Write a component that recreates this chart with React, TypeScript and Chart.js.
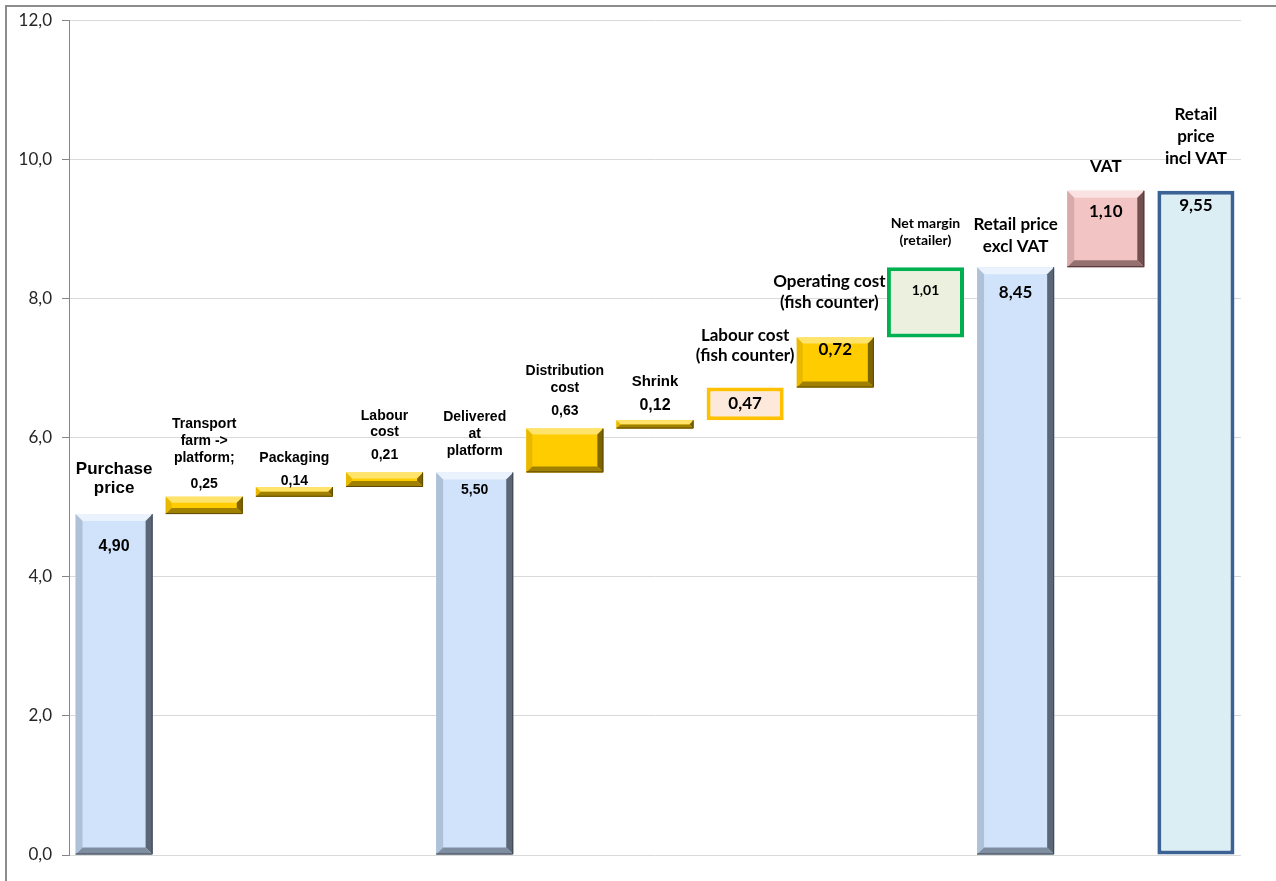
import React, { useEffect, useRef } from "react";
import { Chart, registerables } from "chart.js";

Chart.register(...registerables);

// ---------- data ----------
const categories: string[][] = [
  ["Purchase", "price"],
  ["Transport", "farm ->", "platform;"],
  ["Packaging"],
  ["Labour", "cost"],
  ["Delivered", "at", "platform"],
  ["Distribution", "cost"],
  ["Shrink"],
  ["Labour cost", "(fish counter)"],
  ["Operating cost", "(fish counter)"],
  ["Net margin", "(retailer)"],
  ["Retail price", "excl VAT"],
  ["VAT"],
  ["Retail", "price", "incl VAT"],
];
const barValues = [4.9, 0.25, 0.14, 0.21, 5.5, 0.63, 0.12, 0.47, 0.72, 1.01, 8.45, 1.1, 9.55];
const isTotal = [true, false, false, false, true, false, false, false, false, false, true, false, true];
const valueLabels = ["4,90", "0,25", "0,14", "0,21", "5,50", "0,63", "0,12", "0,47", "0,72", "1,01", "8,45", "1,10", "9,55"];
const yTickValues = [0, 2, 4, 6, 8, 10, 12];
const yTickLabels = ["0,0", "2,0", "4,0", "6,0", "8,0", "10,0", "12,0"];

// ---------- styles ----------
type Kind = "blue" | "gold" | "pink" | "peach" | "green" | "total";
const kinds: Kind[] = ["blue", "gold", "gold", "gold", "blue", "gold", "gold", "peach", "gold", "green", "blue", "pink", "total"];

const fills: Record<Kind, string> = {
  blue: "#D1E3FA",
  gold: "#FFCC00",
  pink: "#F2C4C4",
  peach: "#FDE9DB",
  green: "#EBF1DE",
  total: "#DAEEF3",
};
const borders: Record<Kind, [string, number]> = {
  blue: ["rgba(0,0,0,0)", 0],
  gold: ["rgba(0,0,0,0)", 0],
  pink: ["rgba(0,0,0,0)", 0],
  peach: ["#FFC000", 4],
  green: ["#00B050", 4],
  total: ["#3A6294", 4],
};
const bevelCols: Partial<Record<Kind, { top: string; left: string; right: string; bottom: string; edge: string; size: number }>> = {
  blue: { top: "#EAF2FD", left: "#AFC1D8", right: "#5B6676", bottom: "#7E8DA0", edge: "#3E4650", size: 7 },
  gold: { top: "#FFE36A", left: "#E9B900", right: "#7E6400", bottom: "#A08000", edge: "#5E4A00", size: 6 },
  pink: { top: "#FAE2E2", left: "#D8AAAA", right: "#735050", bottom: "#957070", edge: "#4E3535", size: 7 },
};

const ARIAL = "'Liberation Sans', Arial, sans-serif";
const CALIBRI = "Lato, 'Open Sans', sans-serif";

// label layout per bar
const nameSize = [17, 14, 14, 14, 14, 14, 15, 17, 17, 14, 17, 17, 17];
const nameFamily = [ARIAL, ARIAL, ARIAL, ARIAL, ARIAL, ARIAL, ARIAL, CALIBRI, CALIBRI, CALIBRI, CALIBRI, CALIBRI, CALIBRI];
const nameLineH = [19, 17, 17, 16, 17, 17, 17, 20, 21, 17, 22, 22, 22];
const nameGap = [26, 39, 29, 40, 21, 40, 38, 32, 35, 27, 21, 24, 32];
const nameDx = [0, 0, 0, 0, 0, 0, 0, 0, -6, 0, 0, 0, 0];
const valueSize = [16, 14, 14, 14, 14, 14, 16, 17, 17, 14, 17, 17, 17];
const valueFamily = [ARIAL, ARIAL, ARIAL, ARIAL, ARIAL, ARIAL, ARIAL, CALIBRI, CALIBRI, CALIBRI, CALIBRI, CALIBRI, CALIBRI];
const valueOffset = [32, -13, -6, -17, 18, -17, -15, 16, 12, 23, 25, 21, 15];

function buildRanges(): [number, number][] {
  const out: [number, number][] = [];
  let running = 0;
  barValues.forEach((v, i) => {
    if (isTotal[i]) {
      out.push([0, v]);
      running = v;
    } else {
      out.push([running, running + v]);
      running = running + v;
    }
  });
  return out;
}

function poly(ctx: CanvasRenderingContext2D, pts: number[][], color: string) {
  ctx.beginPath();
  ctx.moveTo(pts[0][0], pts[0][1]);
  for (let i = 1; i < pts.length; i++) ctx.lineTo(pts[i][0], pts[i][1]);
  ctx.closePath();
  ctx.fillStyle = color;
  ctx.fill();
}

const bevelPlugin = {
  id: "bevel",
  afterDatasetsDraw(chart: any) {
    const ctx: CanvasRenderingContext2D = chart.ctx;
    const meta = chart.getDatasetMeta(0);
    meta.data.forEach((el: any, i: number) => {
      const c = bevelCols[kinds[i]];
      if (!c) return;
      const { x, y, base, width } = el.getProps(["x", "y", "base", "width"], true);
      const l = x - width / 2;
      const r = x + width / 2;
      const t = Math.min(y, base);
      const b = Math.max(y, base);
      const s = Math.min(c.size, (b - t) / 2, (r - l) / 2);
      ctx.save();
      poly(ctx, [[l, t], [r, t], [r - s, t + s], [l + s, t + s]], c.top);
      poly(ctx, [[l, t], [l + s, t + s], [l + s, b - s], [l, b]], c.left);
      poly(ctx, [[r, t], [r, b], [r - s, b - s], [r - s, t + s]], c.right);
      poly(ctx, [[l, b], [l + s, b - s], [r - s, b - s], [r, b]], c.bottom);
      ctx.strokeStyle = c.edge;
      ctx.lineWidth = 1;
      ctx.beginPath();
      ctx.moveTo(r - 0.5, t);
      ctx.lineTo(r - 0.5, b - 0.5);
      ctx.lineTo(l, b - 0.5);
      ctx.stroke();
      ctx.restore();
    });
  },
};

const labelPlugin = {
  id: "labels",
  afterDraw(chart: any) {
    const ctx: CanvasRenderingContext2D = chart.ctx;
    const meta = chart.getDatasetMeta(0);
    ctx.save();
    ctx.fillStyle = "#000000";
    ctx.textAlign = "center";
    ctx.textBaseline = "middle";
    meta.data.forEach((el: any, i: number) => {
      const { x, y, base } = el.getProps(["x", "y", "base"], true);
      const top = Math.min(y, base);
      const lines = categories[i];
      ctx.font = `bold ${nameSize[i]}px ${nameFamily[i]}`;
      const lastY = top - nameGap[i];
      lines.forEach((ln, k) => {
        const ly = lastY - (lines.length - 1 - k) * nameLineH[i];
        ctx.fillText(ln, x + nameDx[i], ly);
      });
      ctx.font = `bold ${valueSize[i]}px ${valueFamily[i]}`;
      ctx.fillText(valueLabels[i], x, top + valueOffset[i]);
    });
    ctx.restore();
  },
};

export default function App() {
  const ref = useRef<HTMLCanvasElement | null>(null);
  useEffect(() => {
    if (!ref.current) return;
    const ranges = buildRanges();
    const chart = new Chart(ref.current, {
      type: "bar",
      data: {
        labels: categories.map((c) => c.join(" ")),
        datasets: [
          {
            data: ranges as any,
            backgroundColor: kinds.map((k) => fills[k]),
            borderColor: kinds.map((k) => borders[k][0]),
            borderWidth: kinds.map((k) => borders[k][1]),
            borderSkipped: false,
            categoryPercentage: 1,
            barPercentage: 0.855,
          },
        ],
      },
      options: {
        responsive: false,
        animation: false,
        devicePixelRatio: 1,
        layout: { padding: { left: 0, top: 20, right: 35, bottom: 26 } },
        plugins: {
          legend: { display: false },
          tooltip: { enabled: false },
          title: { display: false },
        },
        scales: {
          x: {
            display: false,
            grid: { display: false },
          },
          y: {
            min: 0,
            max: 12,
            afterFit: (scale: any) => {
              scale.width = 69;
            },
            afterBuildTicks: (scale: any) => {
              scale.ticks = yTickValues.map((v) => ({ value: v }));
            },
            ticks: {
              padding: 10,
              color: "#262626",
              font: { family: CALIBRI, size: 17 },
              callback: (v: any) => {
                const idx = yTickValues.indexOf(Number(v));
                return idx >= 0 ? yTickLabels[idx] : "";
              },
            },
            grid: {
              color: "#D9D9D9",
              tickColor: "#868686",
              tickLength: 7,
              lineWidth: 1,
            },
            border: { display: true, color: "#868686", width: 1 },
          },
        },
      },
      plugins: [bevelPlugin, labelPlugin],
    });
    return () => chart.destroy();
  }, []);

  return (
    <div style={{ position: "fixed", left: 0, top: 0, width: 1276, height: 881, overflow: "hidden", background: "#FFFFFF" }}>
      <div
        style={{
          position: "absolute",
          left: 5,
          top: 5,
          width: 1400,
          height: 1000,
          border: "2px solid #8C8C8C",
          boxSizing: "border-box",
        }}
      />
      <canvas ref={ref} width={1276} height={881} style={{ position: "absolute", left: 0, top: 0, width: 1276, height: 881 }} />
    </div>
  );
}
